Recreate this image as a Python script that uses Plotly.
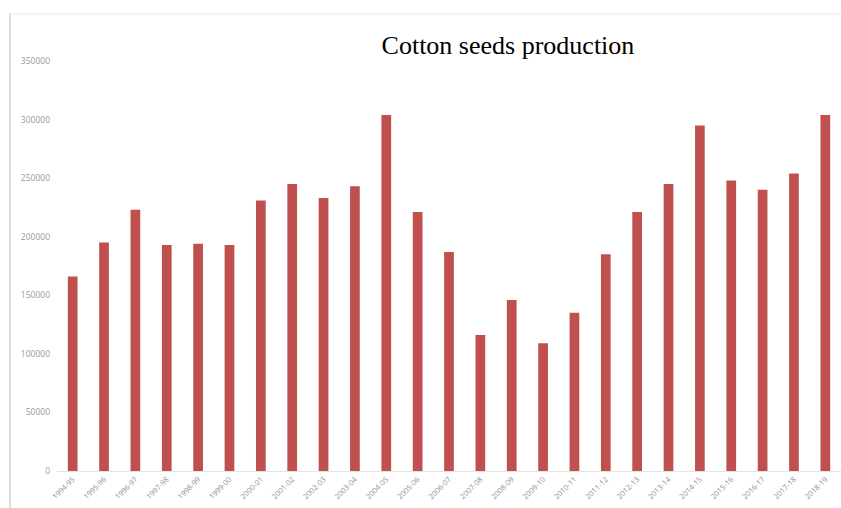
import plotly.graph_objects as go

# Seasons and cotton seed production (tonnes)
seasons = [
    "1994-95", "1995-96", "1996-97", "1997-98", "1998-99", "1999-00",
    "2000-01", "2001-02", "2002-03", "2003-04", "2004-05", "2005-06",
    "2006-07", "2007-08", "2008-09", "2009-10", "2010-11", "2011-12",
    "2012-13", "2013-14", "2014-15", "2015-16", "2016-17", "2017-18",
    "2018-19",
]
production = [
    166000, 195000, 223000, 193000, 194000, 193000,
    231000, 245000, 233000, 243000, 304000, 221000,
    187000, 116000, 146000, 109000, 135000, 185000,
    221000, 245000, 295000, 248000, 240000, 254000,
    304000,
]
y_ticks = [0, 50000, 100000, 150000, 200000, 250000, 300000, 350000]

fig = go.Figure(
    go.Bar(
        x=seasons,
        y=production,
        marker=dict(color="#c0504d", line=dict(width=0)),
    )
)

fig.update_layout(
    width=841,
    height=508,
    margin=dict(l=57, r=0, t=61, b=37, autoexpand=False),
    paper_bgcolor="white",
    plot_bgcolor="white",
    bargap=0.69,
    showlegend=False,
    title=dict(
        text="Cotton seeds production",
        font=dict(family="Liberation Serif", size=26, color="black"),
        x=0.604,
        xanchor="center",
        y=1 - 45 / 508,
        yref="container",
        yanchor="middle",
    ),
    xaxis=dict(
        type="category",
        tickangle=-45,
        tickfont=dict(family="Open Sans", size=7.5, color="#8f8f8f"),
        showline=True,
        linecolor="#e4e4e4",
        linewidth=1,
        showgrid=False,
        range=[-0.5, 24.5],
        automargin=False,
    ),
    yaxis=dict(
        range=[0, 350000],
        tickvals=y_ticks,
        ticktext=[str(v) for v in y_ticks],
        tickfont=dict(family="Open Sans", size=8.5, color="#9a9a9a"),
        showgrid=False,
        zeroline=False,
        showline=False,
        ticklabelstandoff=6,
        automargin=False,
    ),
    shapes=[
        # thin frame lines along the left and top edges
        dict(type="line", xref="paper", yref="paper",
             x0=-47 / 784, x1=-47 / 784, y0=1 + 48 / 410, y1=-37 / 410,
             line=dict(color="#dcdcdc", width=2)),
        dict(type="line", xref="paper", yref="paper",
             x0=-47 / 784, x1=1, y0=1 + 47 / 410, y1=1 + 47 / 410,
             line=dict(color="#f3f3f3", width=2)),
    ],
)

fig.write_html("out.html")
